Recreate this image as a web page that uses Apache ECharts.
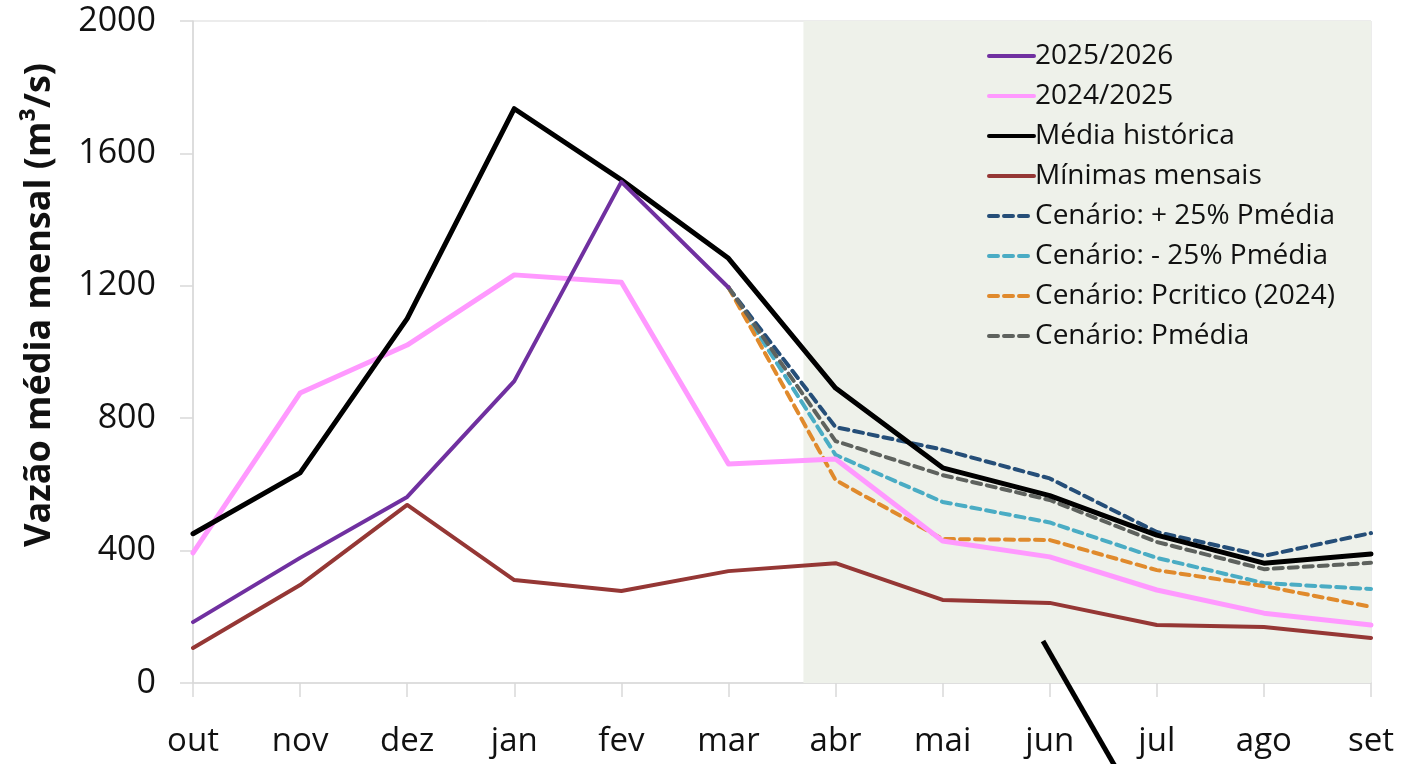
<!DOCTYPE html>
<html>
<head>
<meta charset="utf-8">
<title>Vazão média mensal</title>
<script src="https://cdn.jsdelivr.net/npm/echarts@6/dist/echarts.min.js"></script>
<style>
  html, body { margin: 0; padding: 0; background: #ffffff; }
  #chart { width: 1401px; height: 764px; }
</style>
</head>
<body>
<div id="chart"></div>
<script>
// Meses do ano hidrológico (outubro a setembro)
const months = ['out', 'nov', 'dez', 'jan', 'fev', 'mar', 'abr', 'mai', 'jun', 'jul', 'ago', 'set'];
const yTicks = [0, 400, 800, 1200, 1600, 2000];

// Vazões médias mensais (m³/s)
const ano2025_2026 = [184, 378, 562, 912, 1514, 1195, null, null, null, null, null, null];
const ano2024_2025 = [393, 876, 1021, 1233, 1211, 662, 677, 429, 381, 281, 211, 175];
const mediaHistorica = [451, 635, 1101, 1735, 1520, 1283, 891, 650, 566, 447, 362, 390];
const minimasMensais = [106, 296, 538, 311, 278, 338, 362, 251, 242, 175, 169, 136];

// Cenários de previsão a partir de março
const cenMais25 = [null, null, null, null, null, 1195, 773, 705, 618, 456, 384, 453];
const cenMenos25 = [null, null, null, null, null, 1195, 689, 547, 485, 378, 302, 284];
const cenPcritico = [null, null, null, null, null, 1195, 613, 435, 432, 341, 293, 230];
const cenPmedia = [null, null, null, null, null, 1195, 731, 628, 553, 426, 344, 363];

// Início do período de previsão (posição contínua no eixo de meses)
const inicioPrevisao = 5.7;
const fimPrevisao = 11;

const FONT = '"Open Sans", "Liberation Sans", sans-serif';
const GRID_GREY = '#D9D9D9';

function solid(name, data, color, width) {
  return {
    name, type: 'line', data, symbol: 'none', smooth: false,
    lineStyle: { color, width, cap: 'round', join: 'round' },
    itemStyle: { color },
    emphasis: { disabled: true }, z: 3
  };
}
function dashed(name, data, color) {
  return {
    name, type: 'line', data, symbol: 'none', smooth: false,
    lineStyle: { color, width: 4, type: [9, 6], cap: 'round', join: 'round' },
    itemStyle: { color },
    emphasis: { disabled: true }, z: 2
  };
}

const chart = echarts.init(document.getElementById('chart'), null, { renderer: 'canvas' });

chart.setOption({
  animation: false,
  backgroundColor: '#ffffff',
  textStyle: { fontFamily: FONT },
  grid: {
    left: 193, right: 30, top: 21, bottom: 81,
    show: true, borderColor: GRID_GREY, borderWidth: 1, backgroundColor: 'transparent'
  },
  legend: {
    orient: 'vertical',
    left: 982, top: 36,
    itemWidth: 45, itemHeight: 14, itemGap: 10,
    backgroundColor: 'transparent',
    itemStyle: { opacity: 0 },
    lineStyle: { width: 4 },
    textStyle: { fontFamily: FONT, fontSize: 28, color: '#111', lineHeight: 30, padding: [0, 0, 0, -4] },
    data: ['2025/2026', '2024/2025', 'Média histórica', 'Mínimas mensais',
           'Cenário: + 25% Pmédia', 'Cenário: - 25% Pmédia', 'Cenário: Pcritico (2024)', 'Cenário: Pmédia']
  },
  xAxis: [{
    type: 'category',
    data: months,
    boundaryGap: false,
    axisLine: { lineStyle: { color: GRID_GREY, width: 1.5 } },
    axisTick: { show: true, length: 14, lineStyle: { color: GRID_GREY, width: 1.5 } },
    axisLabel: { color: '#111', fontSize: 33, fontFamily: FONT, margin: 42 },
    splitLine: { show: false }
  }, {
    type: 'value', min: 0, max: fimPrevisao, show: false
  }],
  yAxis: {
    type: 'value',
    min: yTicks[0], max: yTicks[yTicks.length - 1], interval: 400,
    axisLine: { show: true, lineStyle: { color: GRID_GREY, width: 1.5 } },
    axisTick: { show: true, length: 13, lineStyle: { color: GRID_GREY, width: 1.5 } },
    axisLabel: { color: '#111', fontSize: 34, fontFamily: FONT, margin: 37, formatter: v => String(v) },
    splitLine: { show: false }
  },
  series: [
    {
      name: 'periodo-previsao', type: 'line', xAxisIndex: 1, data: [], silent: true,
      markArea: {
        silent: true,
        itemStyle: { color: '#EEF1EA' },
        data: [[{ xAxis: inicioPrevisao }, { xAxis: fimPrevisao }]]
      },
      z: 0
    },
    dashed('Cenário: + 25% Pmédia', cenMais25, '#254E78'),
    dashed('Cenário: - 25% Pmédia', cenMenos25, '#4AACC4'),
    dashed('Cenário: Pcritico (2024)', cenPcritico, '#E08A2C'),
    dashed('Cenário: Pmédia', cenPmedia, '#5E625E'),
    solid('2024/2025', ano2024_2025, '#FF99FF', 5),
    solid('Mínimas mensais', minimasMensais, '#953735', 4),
    solid('Média histórica', mediaHistorica, '#000000', 5),
    solid('2025/2026', ano2025_2026, '#7030A0', 4)
  ],
  graphic: [{
    type: 'text',
    x: 40, y: 305,
    rotation: Math.PI / 2,
    style: {
      text: 'Vazão média mensal (m³/s)',
      font: 'bold 36px ' + FONT,
      fill: '#111',
      align: 'center',
      verticalAlign: 'middle'
    }
  }, {
    type: 'line',
    shape: { x1: 1043, y1: 641, x2: 1120, y2: 775 },
    style: { stroke: '#000000', lineWidth: 5 },
    z: 10
  }]
});
</script>
</body>
</html>
